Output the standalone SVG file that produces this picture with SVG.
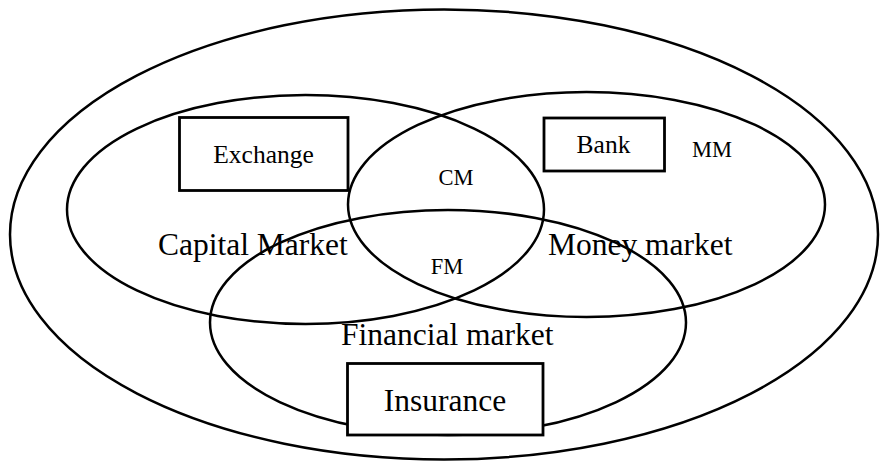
<svg xmlns="http://www.w3.org/2000/svg" width="880" height="462" viewBox="0 0 880 462">
<style>
.e{fill:none;stroke:#000;stroke-width:2.5}
.r{fill:#fff;stroke:#000;stroke-width:2.8}
text{font-family:"Liberation Serif","Times New Roman",serif;fill:#000}
.big{font-size:31.5px}
.mid{font-size:25.5px}
.sm{font-size:22.5px}
</style>
<rect width="880" height="462" fill="#fff"/>
<g id="outer"><ellipse class="e" cx="444" cy="234.5" rx="434" ry="225"/></g>
<g id="capital-market"><ellipse class="e" cx="305.5" cy="209.5" rx="238.5" ry="114.5"/><text class="big" x="158" y="255">Capital Market</text></g>
<g id="money-market"><ellipse class="e" cx="586.5" cy="204.5" rx="238.5" ry="112.5"/><text class="big" x="548" y="255">Money market</text></g>
<g id="financial-market"><ellipse class="e" cx="448" cy="322.5" rx="238" ry="112.5"/><text class="big" x="341" y="345">Financial market</text></g>
<g id="exchange"><rect class="r" x="179.5" y="117.5" width="168.5" height="73"/><text class="mid" x="263.5" y="163" text-anchor="middle">Exchange</text></g>
<g id="bank"><rect class="r" x="544" y="118" width="120.5" height="53"/><text class="mid" x="603.5" y="153" text-anchor="middle">Bank</text></g>
<g id="insurance"><rect class="r" x="347.5" y="363.5" width="195.5" height="71.5"/><text class="big" x="445" y="411" text-anchor="middle">Insurance</text></g>
<g id="mm"><text class="sm" x="692" y="157">MM</text></g>
<g id="cm"><text class="sm" x="456" y="185" text-anchor="middle">CM</text></g>
<g id="fm"><text class="sm" x="447" y="274" text-anchor="middle">FM</text></g>
<g id="connectors"></g>
</svg>
